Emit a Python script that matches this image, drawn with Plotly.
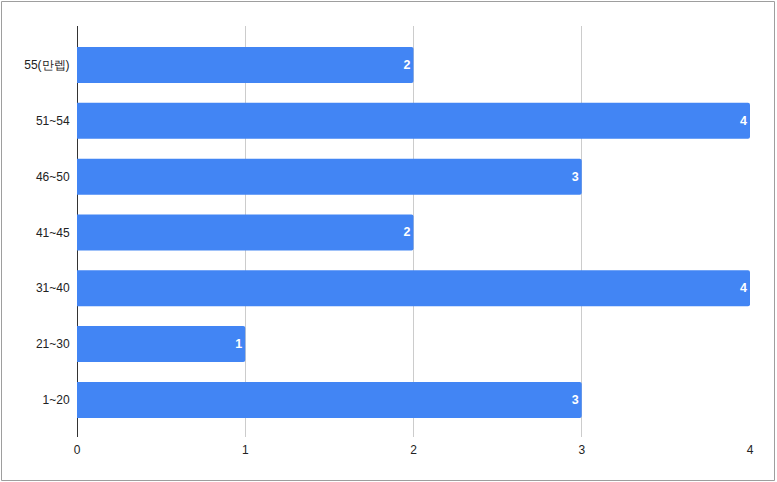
import plotly.graph_objects as go

categories = ["1~20", "21~30", "31~40", "41~45", "46~50", "51~54", "55(만렙)"]
values = [3, 1, 4, 2, 3, 4, 2]
x_ticks = [0, 1, 2, 3, 4]

W, H = 777, 482
L, R, T, B = 77, 27, 26, 45
pw, ph = W - L - R, H - T - B

fig = go.Figure(go.Bar(
    y=categories, x=values, orientation="h",
    marker=dict(color="#4285F4", line=dict(width=0), cornerradius=2),
    width=0.645,
    text=[str(v) for v in values],
    textposition="inside", insidetextanchor="end",
    textfont=dict(color="white", size=12.5, family="Liberation Sans, Arial", weight="bold"),
    cliponaxis=False,
))

fig.update_layout(
    width=W, height=H,
    margin=dict(l=L, r=R, t=T, b=B, pad=0),
    paper_bgcolor="white", plot_bgcolor="white",
    font=dict(family="Liberation Sans, Arial", size=12, color="#222222"),
    showlegend=False,
    xaxis=dict(range=[0, 4], tickvals=x_ticks, showgrid=True, gridcolor="#cccccc",
               gridwidth=1, zeroline=True, zerolinecolor="#333333", zerolinewidth=1,
               showline=False, ticks="outside", ticklen=2, tickcolor="rgba(0,0,0,0)",
               tickfont=dict(size=12, color="#222222")),
    yaxis=dict(range=[-0.665, 6.7], type="category", showgrid=False, zeroline=False,
               showline=False, ticks="outside", ticklen=4, tickcolor="rgba(0,0,0,0)",
               tickfont=dict(size=12, color="#222222")),
    shapes=[dict(type="rect", xref="paper", yref="paper",
                 x0=(1.5 - L) / pw, x1=(774.5 - L) / pw,
                 y0=(H - B - 480.5) / ph, y1=(H - B - 1.5) / ph,
                 line=dict(color="#9e9e9e", width=1), fillcolor="rgba(0,0,0,0)", layer="below")],
)

fig.write_html("out.html")
